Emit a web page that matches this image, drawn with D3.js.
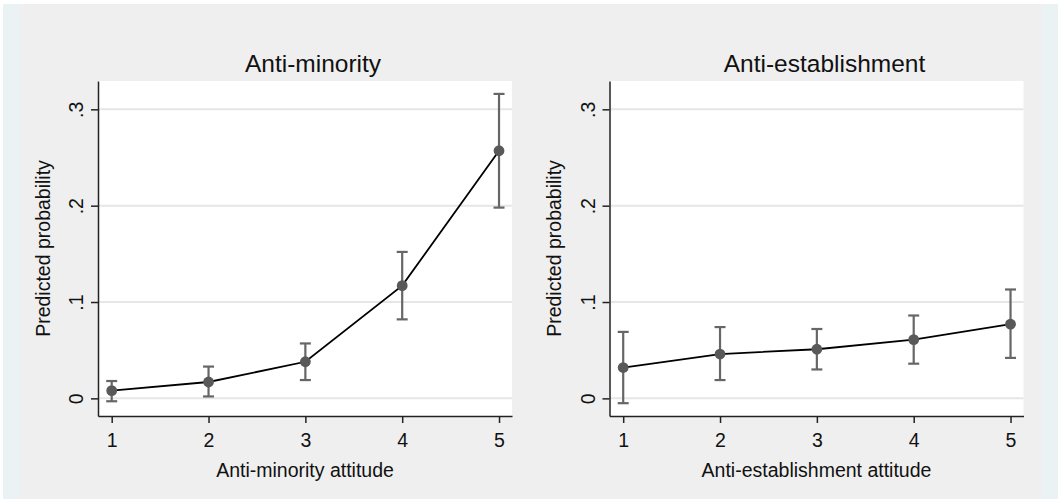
<!DOCTYPE html>
<html>
<head>
<meta charset="utf-8">
<script src="https://cdn.jsdelivr.net/npm/d3@7"></script>
<style>
  html, body { margin: 0; padding: 0; background: #ffffff; }
  svg { display: block; }
  text { font-family: "Liberation Sans", Arial, sans-serif; fill: #111; }
</style>
</head>
<body>
<svg id="chart" width="1058" height="503"></svg>
<script>
// ---- Data ----
const categories = [1, 2, 3, 4, 5];
const yTicks = [0, 0.1, 0.2, 0.3];
const yTickLabels = ["0", ".1", ".2", ".3"];
const xTickLabels = ["1", "2", "3", "4", "5"];

const panelTitles = ["Anti-minority", "Anti-establishment"];
const xAxisTitles = ["Anti-minority attitude", "Anti-establishment attitude"];
const yAxisTitle = "Predicted probability";

const minorityEst = [0.008, 0.017, 0.038, 0.117, 0.257];
const minorityLo  = [-0.003, 0.002, 0.019, 0.082, 0.198];
const minorityHi  = [0.018, 0.033, 0.057, 0.152, 0.316];

const establishEst = [0.032, 0.046, 0.051, 0.061, 0.077];
const establishLo  = [-0.005, 0.019, 0.030, 0.036, 0.042];
const establishHi  = [0.069, 0.074, 0.072, 0.086, 0.113];

const panels = [
  { title: panelTitles[0], xTitle: xAxisTitles[0], est: minorityEst, lo: minorityLo, hi: minorityHi },
  { title: panelTitles[1], xTitle: xAxisTitles[1], est: establishEst, lo: establishLo, hi: establishHi }
];

// ---- Layout ----
const svg = d3.select("#chart");
svg.append("rect").attr("x", 3).attr("y", 4).attr("width", 1055).attr("height", 495).attr("fill", "#eaf2f3");
svg.append("rect").attr("x", 20).attr("y", 4).attr("width", 1022).attr("height", 495).attr("fill", "#efefef");

const plotTop = 81, plotBottom = 416;
const plotLeft0 = 98, plotW = 414, panelStep = 511.5;

const y = d3.scaleLinear().domain([-0.0183, 0.3294]).range([plotBottom, plotTop]);

panels.forEach((p, i) => {
  const left = plotLeft0 + i * panelStep;
  const right = left + plotW;
  const x = d3.scaleLinear().domain([0.8585, 5.134]).range([left, right]);
  const g = svg.append("g");

  // plot region
  g.append("rect").attr("x", left).attr("y", plotTop)
    .attr("width", plotW).attr("height", plotBottom - plotTop).attr("fill", "#ffffff");

  // gridlines
  g.selectAll(".grid").data(yTicks).enter().append("line")
    .attr("x1", left).attr("x2", right)
    .attr("y1", d => y(d)).attr("y2", d => y(d))
    .attr("stroke", "#e6e6e6").attr("stroke-width", 2);

  // y axis
  const yAxis = d3.axisLeft(y).tickValues(yTicks)
    .tickFormat((d, k) => yTickLabels[k]).tickSize(7).tickSizeOuter(0);
  const ya = g.append("g").attr("transform", `translate(${left},0)`).call(yAxis);
  ya.select(".domain").attr("stroke", "#222").attr("stroke-width", 1.5);
  ya.selectAll(".tick line").attr("stroke", "#222").attr("stroke-width", 1.5);
  ya.selectAll(".tick text")
    .attr("transform", "rotate(-90)")
    .attr("x", 0).attr("y", -15).attr("dy", 0)
    .attr("text-anchor", "middle")
    .style("font-size", "19.5px").style("font-family", "'Liberation Sans', Arial, sans-serif")
    .attr("fill", "#111");

  // x axis
  const xAxis = d3.axisBottom(x).tickValues(categories)
    .tickFormat((d, k) => xTickLabels[k]).tickSize(7).tickSizeOuter(0);
  const xa = g.append("g").attr("transform", `translate(0,${plotBottom})`).call(xAxis);
  xa.select(".domain").attr("stroke", "#222").attr("stroke-width", 1.5);
  xa.selectAll(".tick line").attr("stroke", "#222").attr("stroke-width", 1.5);
  xa.selectAll(".tick text")
    .attr("y", 31).attr("dy", 0)
    .style("font-size", "19.5px").style("font-family", "'Liberation Sans', Arial, sans-serif")
    .attr("fill", "#111");

  // titles
  g.append("text").attr("x", (left + right) / 2 + 8).attr("y", 72)
    .attr("text-anchor", "middle").style("font-size", "24.5px").text(p.title);
  g.append("text").attr("x", (left + right) / 2).attr("y", 477)
    .attr("text-anchor", "middle").style("font-size", "19.5px").text(p.xTitle);
  g.append("text")
    .attr("transform", `translate(${left - 48.5},${(plotTop + plotBottom) / 2}) rotate(-90)`)
    .attr("text-anchor", "middle").style("font-size", "19.5px").text(yAxisTitle);

  const pts = categories.map((c, k) => ({ c, est: p.est[k], lo: p.lo[k], hi: p.hi[k] }));

  // error bars
  const eb = g.selectAll(".eb").data(pts).enter().append("g");
  eb.append("line").attr("x1", d => x(d.c)).attr("x2", d => x(d.c))
    .attr("y1", d => y(d.lo)).attr("y2", d => y(d.hi))
    .attr("stroke", "#666").attr("stroke-width", 2.2);
  eb.append("line").attr("x1", d => x(d.c) - 5.5).attr("x2", d => x(d.c) + 5.5)
    .attr("y1", d => y(d.hi)).attr("y2", d => y(d.hi))
    .attr("stroke", "#666").attr("stroke-width", 2.2);
  eb.append("line").attr("x1", d => x(d.c) - 5.5).attr("x2", d => x(d.c) + 5.5)
    .attr("y1", d => y(d.lo)).attr("y2", d => y(d.lo))
    .attr("stroke", "#666").attr("stroke-width", 2.2);

  // line
  g.append("path").datum(pts)
    .attr("d", d3.line().x(d => x(d.c)).y(d => y(d.est)))
    .attr("fill", "none").attr("stroke", "#000").attr("stroke-width", 1.8);

  // markers
  g.selectAll(".pt").data(pts).enter().append("circle")
    .attr("cx", d => x(d.c)).attr("cy", d => y(d.est)).attr("r", 5.4)
    .attr("fill", "#595959");
});
</script>
</body>
</html>
